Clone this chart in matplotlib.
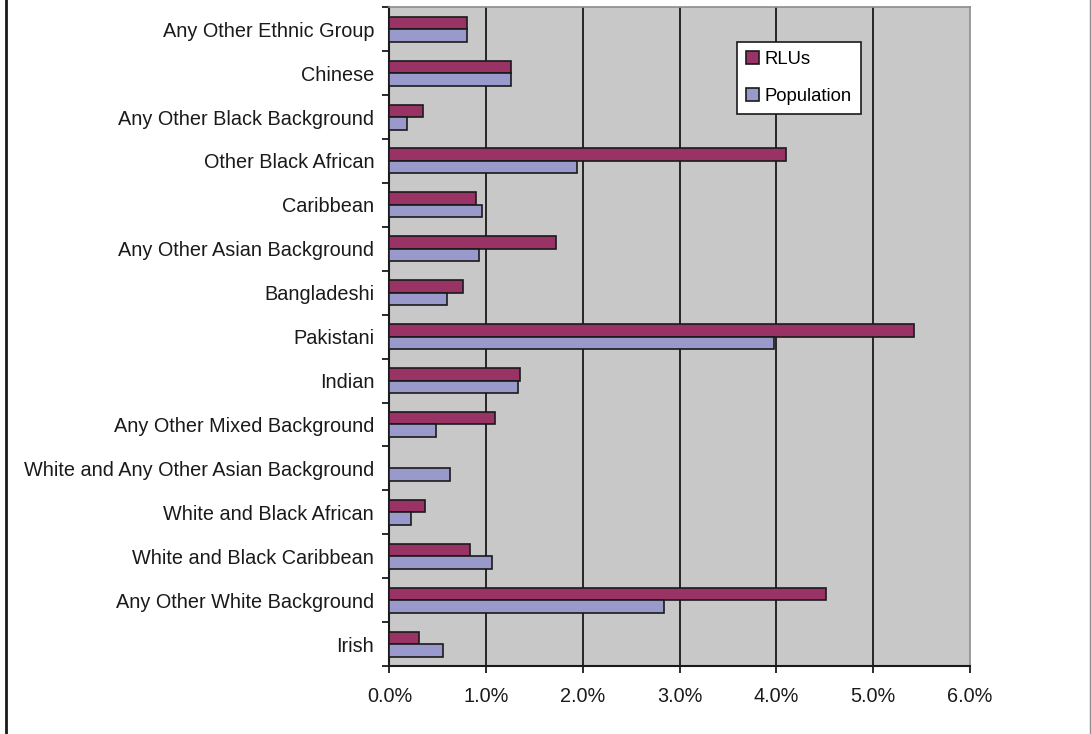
import matplotlib.pyplot as plt
import numpy as np
from matplotlib.ticker import FuncFormatter, FixedLocator

plt.rcParams['font.family'] = ['Liberation Sans', 'DejaVu Sans']

# categories from bottom to top
groups = [
    "Irish",
    "Any Other White Background",
    "White and Black Caribbean",
    "White and Black African",
    "White and Any Other Asian Background",
    "Any Other Mixed Background",
    "Indian",
    "Pakistani",
    "Bangladeshi",
    "Any Other Asian Background",
    "Caribbean",
    "Other Black African",
    "Any Other Black Background",
    "Chinese",
    "Any Other Ethnic Group",
]
rlus = [0.31, 4.51, 0.83, 0.37, 0.0, 1.09, 1.35, 5.42, 0.76, 1.72, 0.89, 4.10, 0.35, 1.26, 0.80]
population = [0.55, 2.84, 1.06, 0.22, 0.63, 0.48, 1.33, 3.97, 0.59, 0.93, 0.96, 1.94, 0.18, 1.26, 0.80]

fig = plt.figure(figsize=(10.91, 7.34), dpi=100)
ax = fig.add_axes([0.357, 0.0926, 0.532, 0.8975])
ax.set_facecolor('#C8C8C8')

y = np.arange(len(groups))
h = 0.285
ax.barh(y + h / 2, rlus, height=h, color='#993366', edgecolor='#1a1a1a',
        linewidth=1.2, label='RLUs', zorder=3)
ax.barh(y - h / 2, population, height=h, color='#9999CC', edgecolor='#1a1a1a',
        linewidth=1.2, label='Population', zorder=3)

ax.set_xlim(0, 6)
ax.set_ylim(-0.5, len(groups) - 0.5)
ax.set_xticks(np.arange(0, 7, 1))
ax.xaxis.set_major_formatter(FuncFormatter(lambda v, p: f"{v:.1f}%"))
for gx in range(1, 6):
    ax.axvline(gx, color='#1a1a1a', linewidth=1.3, zorder=1)

fs = 14.3
ax.set_yticks(y)
ax.set_yticklabels(groups)
ax.yaxis.set_minor_locator(FixedLocator(np.arange(-0.5, len(groups), 1)))
ax.tick_params(axis='y', which='major', length=0, pad=11, labelsize=fs, colors='#1a1a1a')
ax.tick_params(axis='y', which='minor', length=5, width=1.3, color='#1a1a1a')
ax.tick_params(axis='x', which='major', length=5, width=1.3, color='#1a1a1a',
               pad=10, labelsize=fs, labelcolor='#1a1a1a')

for s in ['left', 'bottom']:
    ax.spines[s].set_color('#1a1a1a')
    ax.spines[s].set_linewidth(1.5)
for s in ['top', 'right']:
    ax.spines[s].set_color('#8c8c8c')
    ax.spines[s].set_linewidth(1.2)

leg = ax.legend(loc='upper left', bbox_to_anchor=(0.598, 0.947), frameon=True,
                fancybox=False, fontsize=13.3, handlelength=0.7, handleheight=0.7,
                handletextpad=0.3, labelspacing=1.05, borderpad=0.5, borderaxespad=0)
leg.get_frame().set_edgecolor('#1a1a1a')
leg.get_frame().set_linewidth(1.2)
leg.get_frame().set_facecolor('white')
leg.get_frame().set_alpha(1)

# outer frame lines
fig.add_artist(plt.Line2D([0.0055, 0.0055], [0, 1], color='#1a1a1a', linewidth=2))
fig.add_artist(plt.Line2D([0.999, 0.999], [0, 1], color='#8c8c8c', linewidth=1))

fig.savefig('out.png', dpi=100)
